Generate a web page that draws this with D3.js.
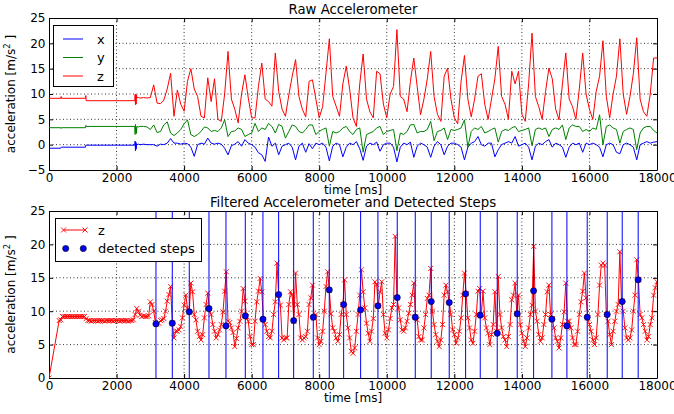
<!DOCTYPE html>
<html>
<head>
<meta charset="utf-8">
<script src="https://cdn.jsdelivr.net/npm/d3@7"></script>
<style>
  body { margin: 0; background: #fff; }
  svg { display: block; font-family: "DejaVu Sans", sans-serif; }
</style>
</head>
<body>
<div id="chart"></div>
<script>
// ---------------------------------------------------------------------------
// DATA
// ---------------------------------------------------------------------------
const xTickValues = [0, 2000, 4000, 6000, 8000, 10000, 12000, 14000, 16000, 18000];
const rawYTicks = [-5, 0, 5, 10, 15, 20, 25];
const filtYTicks = [0, 5, 10, 15, 20, 25];

// raw accelerometer: irregular start, then one sample per 100 ms from 3000 ms
const rawTimeStart = [0, 350, 360, 370, 1080, 1090, 1100, 2540, 2550, 2560, 2570, 2580, 2590, 2600, 2650, 2700, 2800, 2900];
const rawTime = rawTimeStart.concat(d3.range(3000, 18001, 100));

const rawX = [
  -0.7, -0.7, -0.5, -0.5, -0.5, -0.1, -0.1, -0.1, 0.7, -1.2, 0.5, -0.9, 0.2, 0.0, 0.1, 0.0, 0.1, 0.0,
  0.0, 0.0, -0.3, 0.1, 0.0, 0.3, 1.2, 0.3, 0.3, 0.1,
  0.3, 0.2, -0.5, -2.3, 0.0, 0.3, 0.1, 1.3, 0.3, 0.1,
  0.3, 0.1, -0.7, -2.0, -0.2, 0.1, 0.6, -0.3, 1.0, 0.3,
  0.0, -0.5, -1.6, -2.0, -3.3, 1.5, -0.3, 0.3, -2.0, -0.3,
  0.0, 0.3, -0.5, -3.0, -0.3, 0.3, -1.5, 0.2, -0.8, 0.3,
  0.0, 0.3, -0.5, -3.2, -0.3, 0.3, 0.0, -2.4, -0.5, 0.3,
  0.0, 0.6, -0.8, -3.1, -0.3, 0.3, 0.0, 0.5, -1.3, 0.0,
  0.3, 0.3, -0.5, -3.4, -0.5, 0.3, 0.0, 0.5, -2.5, -0.3,
  0.3, 0.0, -0.5, -2.5, -0.3, 0.6, 0.0, -2.0, -0.3, 0.3,
  0.3, 0.0, -0.5, -3.0, -0.5, 0.3, 0.6, 1.6, 0.0, -0.3,
  0.3, 0.3, -2.4, -1.0, 0.0, 0.3, 0.6, 0.3, 1.6, -0.3,
  0.0, 0.3, -0.5, -3.0, -0.3, 0.3, 0.0, 0.6, 1.0, -0.5,
  0.3, 0.0, -0.5, -2.5, -0.5, 0.3, 0.0, 0.3, -1.5, 0.3,
  0.0, 0.3, 0.0, -0.5, -2.4, 0.0, 0.3, 0.0, -1.5, -1.8,
  0.0, 0.3, 0.0, -0.5, -3.0, 0.0, 0.3, 0.6, 0.3, 0.5,
  0.6
];

const rawY = [
  3.35, 3.35, 3.2, 3.35, 3.35, 3.8, 3.6, 3.6, 2.0, 4.0, 2.5, 3.5, 2.2, 3.6, 3.5, 3.6, 3.6, 3.5,
  3.0, 3.9, 2.4, 2.6, 3.9, 4.5, 2.3, 1.8, 2.3, 3.0,
  4.1, 4.9, 2.0, 1.6, 2.0, 2.6, 3.5, 3.3, 2.6, 2.8,
  2.6, 3.3, 4.9, 1.6, 2.6, 2.7, 3.3, 3.0, 1.6, 2.0,
  2.3, 4.2, 2.6, 3.3, 3.0, 4.2, 3.6, 2.3, 4.0, 3.6,
  1.3, 2.6, 3.9, 3.6, 2.6, 2.3, 3.0, 3.9, 3.9, 2.0,
  2.6, 3.0, 3.3, -0.3, 2.6, 2.3, 2.6, 3.3, 3.6, 2.6,
  2.0, 3.0, 3.3, -1.5, 2.0, 2.3, 2.6, 3.3, 3.6, 2.0,
  2.6, 2.8, 3.0, -1.2, 2.3, 2.0, 2.6, 3.9, 4.0, 2.3,
  2.6, 2.6, 3.0, 4.6, 0.8, 2.6, 2.8, 3.3, 1.0, 3.0,
  2.8, 3.0, 3.3, 4.9, -0.5, 2.6, 3.3, 3.0, 3.6, 2.3,
  2.6, 3.0, 3.3, 0.5, 2.6, 3.0, 2.8, 3.3, 3.6, 2.6,
  2.8, 3.0, 3.3, -0.2, 3.0, 3.3, 3.0, 3.3, 1.6, 3.0,
  3.3, 3.0, 3.9, 1.0, 3.3, 3.9, 3.6, 3.6, 2.6, 3.0,
  2.6, 3.3, 3.0, 5.9, 0.0, 3.6, 3.9, 3.3, 3.0, 0.3,
  2.6, 3.0, 3.3, 3.0, -1.0, 2.3, 3.3, 3.6, 3.6, 2.8,
  2.3
];

const rawZ = [
  9.15, 9.15, 9.5, 9.15, 9.15, 9.7, 8.68, 8.68, 9.9, 7.9, 10.0, 8.0, 9.8, 9.3, 9.3, 9.2, 9.3, 9.2,
  9.3, 11.8, 8.2, 8.1, 8.8, 11.0, 14.1, 5.6, 10.8, 8.0,
  6.6, 12.5, 15.0, 11.0, 9.5, 5.6, 5.3, 13.2, 8.5, 13.0,
  5.0, 4.6, 10.0, 18.4, 9.0, 7.0, 4.3, 10.0, 13.8, 9.2,
  5.3, 5.3, 11.5, 16.1, 9.0, 8.5, 7.6, 18.1, 10.5, 7.0,
  5.6, 9.8, 13.5, 16.8, 9.5, 7.0, 5.5, 12.5, 12.8, 9.0,
  5.3, 7.5, 14.1, 20.9, 9.5, 7.6, 5.6, 12.0, 15.5, 11.0,
  5.3, 3.6, 12.0, 17.9, 9.0, 6.5, 5.3, 14.5, 14.0, 8.0,
  5.3, 10.0, 11.5, 22.7, 9.5, 9.0, 6.5, 12.5, 17.1, 11.5,
  5.9, 9.0, 13.0, 18.4, 9.5, 6.0, 4.6, 13.5, 15.1, 9.0,
  5.3, 4.1, 12.5, 17.6, 9.0, 5.5, 9.0, 13.5, 14.0, 8.0,
  5.0, 9.0, 13.0, 19.4, 9.5, 8.0, 5.0, 14.5, 12.0, 14.5,
  6.0, 4.6, 12.0, 22.0, 9.5, 7.5, 5.0, 10.5, 15.1, 13.0,
  7.0, 4.9, 12.0, 18.1, 9.0, 7.5, 5.0, 11.0, 18.1, 10.0,
  7.0, 5.0, 10.5, 13.5, 20.5, 9.5, 5.3, 10.0, 13.5, 20.9,
  10.0, 6.0, 9.5, 14.0, 21.1, 9.0, 6.5, 5.6, 10.0, 17.1,
  17.1
];

// filtered z: first sample at 0 ms, then one sample per 50 ms from 300 ms
const filtTime = [0].concat(d3.range(300, 18001, 50));
const filtZ = [
  0,
  8.6, 8.7,
  9.2, 9.2, 9.2, 9.2, 9.2, 9.2, 9.2, 9.2, 9.2, 9.2, 9.2, 9.2, 9.2, 9.2,
  8.9,
  8.6, 8.6, 8.5, 8.6, 8.6, 8.6, 8.5, 8.6, 8.6, 8.6, 8.5, 8.6, 8.6, 8.6,
  8.6, 8.5, 8.6, 8.6, 8.6, 8.5, 8.6, 8.6, 8.6, 8.6, 8.5, 8.6, 8.6, 8.7,
  9.5, 10.4, 10.0, 9.4,
  9.2, 9.3, 9.2, 9.2, 9.3,
  11.4, 11.0, 10.0, 8.3, 8.1, 8.2, 8.6, 8.7, 8.9, 10.0, 11.5, 12.5, 13.7, 8.2, 6.0, 7.0, 7.0, 7.2, 7.7, 9.0,
  10.9, 12.4, 10.5, 9.9, 14.2, 12.9, 9.5, 8.7, 7.0, 6.2, 5.7, 6.5, 9.0, 11.0, 12.7, 10.4, 9.5, 8.0, 7.0, 6.0,
  6.5, 7.2, 8.0, 9.9, 13.0, 15.9, 8.5, 8.3, 7.5, 6.8, 4.7, 5.9, 7.5, 8.5, 10.0, 13.4, 11.5, 9.2, 8.5, 6.2,
  5.0, 5.0, 8.5, 11.4, 13.0, 14.9, 12.9, 8.7, 8.0, 7.0, 6.2, 6.0, 7.0, 9.5, 11.4, 17.2, 12.4, 10.9, 6.0, 5.7,
  6.0, 6.0, 11.0, 12.9, 12.4, 8.5, 15.7, 11.0, 9.5, 6.0, 5.7, 6.0, 6.2, 7.0, 11.0, 12.0, 13.9, 9.0, 9.5, 6.0,
  5.0, 5.5, 7.0, 10.0, 13.7, 15.9, 13.1, 9.6, 7.5, 7.0, 6.0, 5.5, 6.5, 9.5, 11.0, 14.7, 9.5, 7.5, 6.0, 4.0,
  3.7, 4.5, 7.0, 9.5, 12.4, 16.2, 12.9, 10.5, 8.2, 6.7, 5.5, 7.0, 8.9, 14.4, 14.0, 10.8, 12.9, 14.4, 9.5, 6.7,
  6.0, 7.2, 8.9, 10.5, 11.0, 21.2, 12.0, 10.5, 8.7, 7.2, 7.0, 7.5, 8.5, 9.7, 11.0, 12.4, 14.2, 9.1, 8.7, 6.2,
  5.7, 5.7, 7.5, 9.5, 11.9, 12.4, 16.4, 10.0, 8.0, 6.5, 5.5, 4.7, 5.7, 8.0, 12.4, 13.9, 12.9, 11.3, 9.5, 7.2,
  6.5, 5.2, 6.0, 7.0, 9.0, 12.4, 15.7, 12.6, 9.0, 7.5, 5.7, 5.2, 7.0, 9.5, 13.0, 13.4, 9.5, 13.0, 9.0, 7.5,
  6.7, 5.0, 6.5, 8.0, 12.9, 7.0, 15.2, 9.5, 7.5, 6.2, 5.7, 4.7, 6.2, 8.0, 11.7, 12.4, 14.2, 9.6, 12.4, 8.0,
  6.7, 5.5, 4.7, 6.0, 7.5, 9.5, 10.9, 19.7, 10.0, 8.5, 6.5, 5.5, 6.0, 8.0, 9.5, 12.9, 13.9, 9.5, 8.9, 7.5,
  6.0, 5.5, 4.5, 6.0, 8.0, 9.9, 14.2, 8.5, 8.5, 7.5, 6.0, 5.0, 5.0, 7.0, 9.5, 11.4, 13.0, 15.7, 12.0, 9.0,
  8.0, 7.0, 5.7, 5.0, 6.0, 9.5, 13.9, 16.9, 17.2, 16.9, 9.5, 8.5, 6.5, 5.0, 7.0, 8.5, 10.0, 11.0, 18.9, 11.5,
  10.0, 7.5, 6.0, 5.7, 6.0, 7.2, 10.0, 12.4, 17.7, 14.7, 9.5, 9.0, 8.0, 7.0, 5.7, 6.2, 8.0, 9.0, 12.4, 13.5,
  14.4
];

// detected steps
const stepTime = [3167, 3650, 4153, 4736, 5239, 5811, 6334, 6799, 7243, 7824, 8297, 8723, 9226, 9738, 10310,
  10843, 11316, 11849, 12334, 12767, 13270, 13862, 14347, 14889, 15333, 15934, 16526, 16970, 17443];
const stepValue = [8.1, 8.2, 9.9, 10.4, 7.8, 9.3, 8.8, 12.5, 8.6, 9.1, 13.2, 11.0, 10.2, 10.8, 12.05,
  9.1, 11.45, 11.3, 12.6, 9.4, 6.7, 9.6, 13.05, 8.8, 7.8, 9.1, 9.5, 11.45, 14.7];

[["rawX", rawX, rawTime], ["rawY", rawY, rawTime], ["rawZ", rawZ, rawTime], ["filtZ", filtZ, filtTime],
 ["stepValue", stepValue, stepTime]].forEach(([n, a, t]) => {
  if (a.length !== t.length) throw new Error(n + " length " + a.length + " vs " + t.length);
});

// ---------------------------------------------------------------------------
// CANVAS
// ---------------------------------------------------------------------------
const W = 674, H = 414;
const svg = d3.select("#chart").append("svg")
  .attr("width", W)
  .attr("height", H);

const plotLeft = 49, plotRight = 657;
const FONT = "'DejaVu Sans', sans-serif";

// draws grid, frame, ticks and labels of one panel; returns its scales
function drawPanel(top, bottom, yDomain, yTicks, title, id) {
  const x = d3.scaleLinear().domain([0, 18000]).range([plotLeft, plotRight]);
  const y = d3.scaleLinear().domain(yDomain).range([bottom, top]);

  svg.append("clipPath").attr("id", id)
    .append("rect")
    .attr("x", plotLeft).attr("y", top)
    .attr("width", plotRight - plotLeft).attr("height", bottom - top);

  // dotted grid
  const grid = svg.append("g")
    .attr("stroke", "#000")
    .attr("stroke-width", 0.8)
    .attr("stroke-dasharray", "1,2.5");
  grid.selectAll("line.gx").data(xTickValues.slice(1, -1)).enter().append("line")
    .attr("x1", d => x(d)).attr("x2", d => x(d))
    .attr("y1", top).attr("y2", bottom);
  grid.selectAll("line.gy").data(yTicks.slice(1, -1)).enter().append("line")
    .attr("x1", plotLeft).attr("x2", plotRight)
    .attr("y1", d => y(d)).attr("y2", d => y(d));

  const fmt = d3.format("d");
  const styleAxis = g => g
    .attr("font-size", 12)
    .attr("font-family", FONT)
    .call(s => s.selectAll("text").attr("fill", "#000"))
    .call(s => s.selectAll("line").attr("stroke", "#000"))
    .call(s => s.select(".domain").attr("stroke", "#000"));

  svg.append("g").attr("transform", `translate(0,${bottom})`)
    .call(d3.axisBottom(x).tickValues(xTickValues).tickFormat(fmt)
      .tickSizeInner(-4).tickSizeOuter(0).tickPadding(3.5))
    .call(styleAxis);
  svg.append("g").attr("transform", `translate(0,${top})`)
    .call(d3.axisTop(x).tickValues(xTickValues).tickFormat("")
      .tickSizeInner(-4).tickSizeOuter(0))
    .call(styleAxis);
  svg.append("g").attr("transform", `translate(${plotLeft},0)`)
    .call(d3.axisLeft(y).tickValues(yTicks).tickFormat(fmt)
      .tickSizeInner(-4).tickSizeOuter(0).tickPadding(3.5))
    .call(styleAxis);
  svg.append("g").attr("transform", `translate(${plotRight},0)`)
    .call(d3.axisRight(y).tickValues(yTicks).tickFormat("")
      .tickSizeInner(-4).tickSizeOuter(0))
    .call(styleAxis);

  // title
  svg.append("text")
    .attr("x", (plotLeft + plotRight) / 2).attr("y", top - 4)
    .attr("text-anchor", "middle")
    .attr("font-size", 13.3).attr("font-family", FONT)
    .text(title);

  // x label
  svg.append("text")
    .attr("x", (plotLeft + plotRight) / 2).attr("y", bottom + 24)
    .attr("text-anchor", "middle")
    .attr("font-size", 12).attr("font-family", FONT)
    .text("time [ms]");

  // y label with superscript
  const yl = svg.append("text")
    .attr("transform", `translate(15,${(top + bottom) / 2}) rotate(-90)`)
    .attr("text-anchor", "middle")
    .attr("font-size", 12).attr("font-family", FONT);
  yl.append("tspan").text("acceleration [m/s");
  yl.append("tspan").attr("font-size", 8.5).attr("dy", -5).text("2");
  yl.append("tspan").attr("dy", 5).text(" ]");

  return { x, y };
}

// ---------------------------------------------------------------------------
// PANEL 1: RAW ACCELEROMETER
// ---------------------------------------------------------------------------
const p1 = drawPanel(18, 170, [-5, 25], rawYTicks, "Raw Accelerometer", "clip1");
const rawSeries = [
  { name: "x", values: rawX, color: "#0000ff" },
  { name: "y", values: rawY, color: "#008000" },
  { name: "z", values: rawZ, color: "#ff0000" }
];
const rawG = svg.append("g").attr("clip-path", "url(#clip1)");
rawSeries.forEach(s => {
  rawG.append("path")
    .datum(rawTime.map((t, i) => [t, s.values[i]]))
    .attr("fill", "none")
    .attr("stroke", s.color)
    .attr("stroke-width", 1)
    .attr("d", d3.line().x(d => p1.x(d[0])).y(d => p1.y(d[1])));
});

// legend
const leg1 = svg.append("g");
leg1.append("rect")
  .attr("x", 53.5).attr("y", 25.5).attr("width", 60).attr("height", 61)
  .attr("fill", "#fff").attr("stroke", "#000").attr("stroke-width", 1);
rawSeries.forEach((s, i) => {
  const ly = 39 + i * 18.5;
  leg1.append("line")
    .attr("x1", 63).attr("x2", 83).attr("y1", ly).attr("y2", ly)
    .attr("stroke", s.color).attr("stroke-width", 1);
  leg1.append("text")
    .attr("x", 97).attr("y", ly + 4.5)
    .attr("font-size", 13).attr("font-family", FONT)
    .text(s.name);
});

// ---------------------------------------------------------------------------
// PANEL 2: FILTERED + DETECTED STEPS
// ---------------------------------------------------------------------------
const p2 = drawPanel(211, 378, [0, 25], filtYTicks, "Filtered Accelerometer and Detected Steps", "clip2");
const filtG = svg.append("g").attr("clip-path", "url(#clip2)");
const filtPts = filtTime.map((t, i) => [t, filtZ[i]]);
const xMark = "M-2.5,-2.5L2.5,2.5M-2.5,2.5L2.5,-2.5";

filtG.append("path")
  .datum(filtPts)
  .attr("fill", "none")
  .attr("stroke", "#ff0000")
  .attr("stroke-width", 1)
  .attr("d", d3.line().x(d => p2.x(d[0])).y(d => p2.y(d[1])));

filtG.selectAll("path.mk").data(filtPts).enter().append("path")
  .attr("class", "mk")
  .attr("transform", d => `translate(${p2.x(d[0])},${p2.y(d[1])})`)
  .attr("d", xMark)
  .attr("fill", "none")
  .attr("stroke", "#ff0000")
  .attr("stroke-width", 0.9);

// step lines across the whole panel
filtG.selectAll("line.step").data(stepTime).enter().append("line")
  .attr("class", "step")
  .attr("x1", d => p2.x(d)).attr("x2", d => p2.x(d))
  .attr("y1", p2.y(25)).attr("y2", p2.y(0))
  .attr("stroke", "#0000ff")
  .attr("stroke-width", 1);

// step dots
filtG.selectAll("circle.stepdot").data(stepTime).enter().append("circle")
  .attr("class", "stepdot")
  .attr("cx", d => p2.x(d))
  .attr("cy", (d, i) => p2.y(stepValue[i]))
  .attr("r", 3.1)
  .attr("fill", "#0000ff")
  .attr("stroke", "#000")
  .attr("stroke-width", 0.6);

// legend
const leg2 = svg.append("g");
leg2.append("rect")
  .attr("x", 55.5).attr("y", 218.5).attr("width", 146).attr("height", 43)
  .attr("fill", "#fff").attr("stroke", "#000").attr("stroke-width", 1);
leg2.append("line")
  .attr("x1", 63.5).attr("x2", 85).attr("y1", 230).attr("y2", 230)
  .attr("stroke", "#ff0000").attr("stroke-width", 1);
[63.5, 85].forEach(lx => {
  leg2.append("path")
    .attr("transform", `translate(${lx},230)`)
    .attr("d", xMark)
    .attr("fill", "none").attr("stroke", "#ff0000").attr("stroke-width", 0.9);
});
[65.7, 83.3].forEach(lx => {
  leg2.append("circle")
    .attr("cx", lx).attr("cy", 248.5).attr("r", 3.1)
    .attr("fill", "#0000ff").attr("stroke", "#000").attr("stroke-width", 0.6);
});
[["z", 230], ["detected steps", 248.5]].forEach(([label, ly]) => {
  leg2.append("text")
    .attr("x", 98).attr("y", ly + 4.5)
    .attr("font-size", 13).attr("font-family", FONT)
    .text(label);
});
</script>
</body>
</html>
